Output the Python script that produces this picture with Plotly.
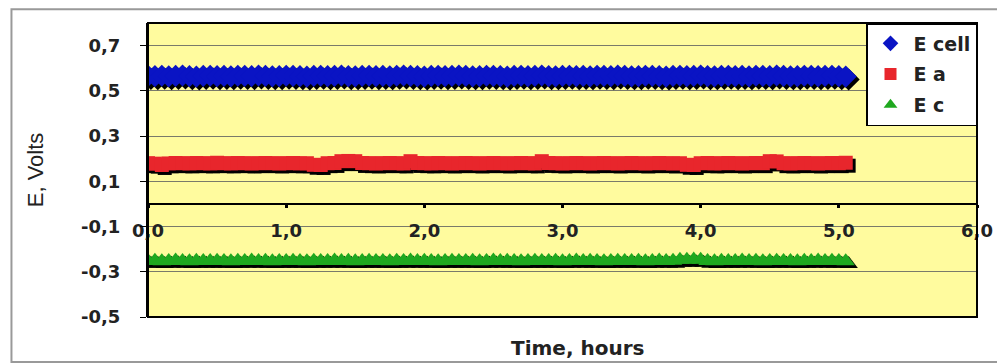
import plotly.graph_objects as go

# time, hours (sampling every 3 min)
t = [0.00, 0.05, 0.10, 0.15, 0.20, 0.25, 0.30, 0.35, 0.40, 0.45,
     0.50, 0.55, 0.60, 0.65, 0.70, 0.75, 0.80, 0.85, 0.90, 0.95,
     1.00, 1.05, 1.10, 1.15, 1.20, 1.25, 1.30, 1.35, 1.40, 1.45,
     1.50, 1.55, 1.60, 1.65, 1.70, 1.75, 1.80, 1.85, 1.90, 1.95,
     2.00, 2.05, 2.10, 2.15, 2.20, 2.25, 2.30, 2.35, 2.40, 2.45,
     2.50, 2.55, 2.60, 2.65, 2.70, 2.75, 2.80, 2.85, 2.90, 2.95,
     3.00, 3.05, 3.10, 3.15, 3.20, 3.25, 3.30, 3.35, 3.40, 3.45,
     3.50, 3.55, 3.60, 3.65, 3.70, 3.75, 3.80, 3.85, 3.90, 3.95,
     4.00, 4.05, 4.10, 4.15, 4.20, 4.25, 4.30, 4.35, 4.40, 4.45,
     4.50, 4.55, 4.60, 4.65, 4.70, 4.75, 4.80, 4.85, 4.90, 4.95,
     5.00, 5.05]

e_cell = [0.566, 0.565, 0.567, 0.564, 0.566, 0.568, 0.565, 0.563, 0.566, 0.567,
          0.565, 0.566, 0.564, 0.567, 0.566, 0.565, 0.568, 0.566, 0.564, 0.565,
          0.567, 0.566, 0.565, 0.563, 0.566, 0.567, 0.565, 0.566, 0.568, 0.565,
          0.564, 0.566, 0.567, 0.565, 0.566, 0.564, 0.567, 0.568, 0.566, 0.565,
          0.563, 0.566, 0.567, 0.565, 0.566, 0.568, 0.566, 0.564, 0.565, 0.567,
          0.566, 0.565, 0.563, 0.566, 0.567, 0.565, 0.566, 0.568, 0.565, 0.564,
          0.566, 0.567, 0.565, 0.566, 0.564, 0.567, 0.566, 0.565, 0.568, 0.566,
          0.564, 0.565, 0.567, 0.566, 0.565, 0.563, 0.566, 0.567, 0.565, 0.566,
          0.568, 0.565, 0.564, 0.566, 0.567, 0.565, 0.566, 0.564, 0.567, 0.566,
          0.565, 0.568, 0.566, 0.564, 0.565, 0.567, 0.566, 0.565, 0.566, 0.567,
          0.565, 0.563]

e_a = [0.180, 0.178, 0.172, 0.179, 0.181, 0.180, 0.179, 0.181, 0.180, 0.179,
       0.182, 0.180, 0.179, 0.181, 0.180, 0.179, 0.180, 0.181, 0.180, 0.179,
       0.180, 0.181, 0.179, 0.180, 0.173, 0.172, 0.180, 0.181, 0.189, 0.190,
       0.189, 0.181, 0.180, 0.179, 0.180, 0.181, 0.180, 0.179, 0.189, 0.181,
       0.180, 0.179, 0.181, 0.180, 0.179, 0.180, 0.181, 0.180, 0.179, 0.180,
       0.181, 0.180, 0.179, 0.180, 0.181, 0.180, 0.179, 0.189, 0.181, 0.180,
       0.179, 0.180, 0.181, 0.180, 0.179, 0.180, 0.181, 0.180, 0.179, 0.180,
       0.181, 0.180, 0.179, 0.180, 0.181, 0.180, 0.179, 0.180, 0.173, 0.172,
       0.180, 0.181, 0.179, 0.180, 0.181, 0.180, 0.179, 0.180, 0.181, 0.180,
       0.189, 0.188, 0.180, 0.179, 0.180, 0.181, 0.180, 0.179, 0.180, 0.181,
       0.180, 0.182]

e_c = [-0.252, -0.251, -0.253, -0.252, -0.250, -0.252, -0.253, -0.251, -0.252, -0.252,
       -0.251, -0.252, -0.253, -0.251, -0.252, -0.250, -0.252, -0.251, -0.253, -0.252,
       -0.252, -0.251, -0.252, -0.253, -0.251, -0.252, -0.252, -0.250, -0.252, -0.251,
       -0.253, -0.252, -0.251, -0.252, -0.252, -0.253, -0.251, -0.252, -0.250, -0.252,
       -0.251, -0.252, -0.253, -0.252, -0.251, -0.252, -0.252, -0.251, -0.253, -0.252,
       -0.250, -0.252, -0.251, -0.252, -0.253, -0.252, -0.251, -0.252, -0.252, -0.251,
       -0.253, -0.252, -0.250, -0.252, -0.251, -0.252, -0.253, -0.252, -0.251, -0.252,
       -0.252, -0.251, -0.253, -0.252, -0.250, -0.252, -0.251, -0.247, -0.247, -0.246,
       -0.247, -0.252, -0.253, -0.251, -0.252, -0.252, -0.250, -0.252, -0.251, -0.253,
       -0.252, -0.251, -0.252, -0.252, -0.253, -0.251, -0.252, -0.250, -0.252, -0.251,
       -0.252, -0.253]

x_ticks = [0, 1, 2, 3, 4, 5, 6]
x_labels = ['0,0', '1,0', '2,0', '3,0', '4,0', '5,0', '6,0']
y_ticks = [-0.5, -0.3, -0.1, 0.1, 0.3, 0.5, 0.7]
y_labels = ['-0,5', '-0,3', '-0,1', '0,1', '0,3', '0,5', '0,7']

series = [
    ('E cell', e_cell, 'diamond', 17, '#0a14c4'),
    ('E a', e_a, 'square', 14, '#e8262c'),
    ('E c', e_c, 'triangle-up', 16, '#1fa81f'),
]

SANS = 'Liberation Sans, Arial, sans-serif'
WIDE = 'DejaVu Sans, Verdana, sans-serif'

fig = go.Figure()

# invisible placeholder so the main (visible) axes get drawn
fig.add_trace(go.Scatter(x=t, y=e_cell, mode='markers', marker=dict(opacity=0),
                         showlegend=False, hoverinfo='skip'))

# black drop shadow under each band: same points on a slightly shifted hidden axis (x2/y2)
for name, vals, sym, size, col in series:
    fig.add_trace(go.Scatter(x=t, y=vals, mode='markers', xaxis='x2', yaxis='y2',
                             marker=dict(symbol=sym, size=size, color='black', line=dict(width=0)),
                             showlegend=False, hoverinfo='skip'))

# coloured markers on top (x3/y3, same range as the visible axes)
for name, vals, sym, size, col in series:
    fig.add_trace(go.Scatter(x=t, y=vals, mode='markers', name=name, legendgroup=name,
                             xaxis='x3', yaxis='y3',
                             marker=dict(symbol=sym, size=size, color=col, line=dict(width=0))))

dx = 0.021
dy = 0.013

# page body has an 8px margin, so the figure is a bit smaller than the window
fig.update_layout(
    width=997, height=355,
    margin=dict(l=140, r=19, t=15, b=46),
    paper_bgcolor='white',
    plot_bgcolor='#fffb9e',
    font=dict(family=SANS, color='black'),
    showlegend=True,
    legend=dict(x=1, xanchor='right', y=1, yanchor='top',
                bgcolor='white', bordercolor='black', borderwidth=1.5,
                font=dict(family=WIDE, size=19, weight='bold', color='#222'),
                itemsizing='constant', traceorder='grouped', tracegroupgap=3,
                itemwidth=36),
    xaxis=dict(range=[0, 6], tickvals=x_ticks, ticktext=x_labels,
               anchor='free', position=0.5 / 1.3,
               showline=True, linecolor='black', linewidth=2,
               ticks='outside', ticklen=3, tickwidth=3, tickcolor='black',
               ticklabelstandoff=7,
               showgrid=False, zeroline=False,
               tickfont=dict(family=WIDE, size=18, weight='bold', color='#222')),
    yaxis=dict(range=[-0.5, 0.8], tickvals=y_ticks, ticktext=y_labels,
               showline=True, linecolor='black', linewidth=2,
               ticks='outside', ticklen=6, tickwidth=1, tickcolor='black',
               ticklabelstandoff=16,
               showgrid=True, gridcolor='#7a7a6a', gridwidth=1,
               zeroline=False,
               tickfont=dict(family=WIDE, size=18, weight='bold', color='#222')),
    xaxis2=dict(range=[-dx, 6 - dx], overlaying='x', anchor='y2', visible=False),
    yaxis2=dict(range=[-0.5 + dy, 0.8 + dy], overlaying='y', anchor='x2', visible=False),
    xaxis3=dict(range=[0, 6], overlaying='x', anchor='y3', visible=False),
    yaxis3=dict(range=[-0.5, 0.8], overlaying='y', anchor='x3', visible=False),
    shapes=[
        dict(type='rect', xref='paper', yref='paper', x0=0, x1=1, y0=0, y1=1,
             line=dict(color='black', width=2), layer='above'),
        dict(type='rect', xref='paper', yref='paper', x0=-0.1647, x1=1.03, y0=-0.153, y1=1.047,
             line=dict(color='#999999', width=2)),
    ],
    annotations=[
        dict(text='E, Volts', xref='paper', yref='paper', x=-0.136, y=0.5,
             xanchor='center', yanchor='middle',
             textangle=-90, showarrow=False, font=dict(family=SANS, size=22, color='#222')),
        dict(text='Time, hours', xref='paper', yref='paper', x=0.518, y=-0.105,
             xanchor='center', yanchor='middle',
             showarrow=False, font=dict(family=WIDE, size=20, weight='bold', color='#222')),
    ],
)

fig.write_html('out.html')
